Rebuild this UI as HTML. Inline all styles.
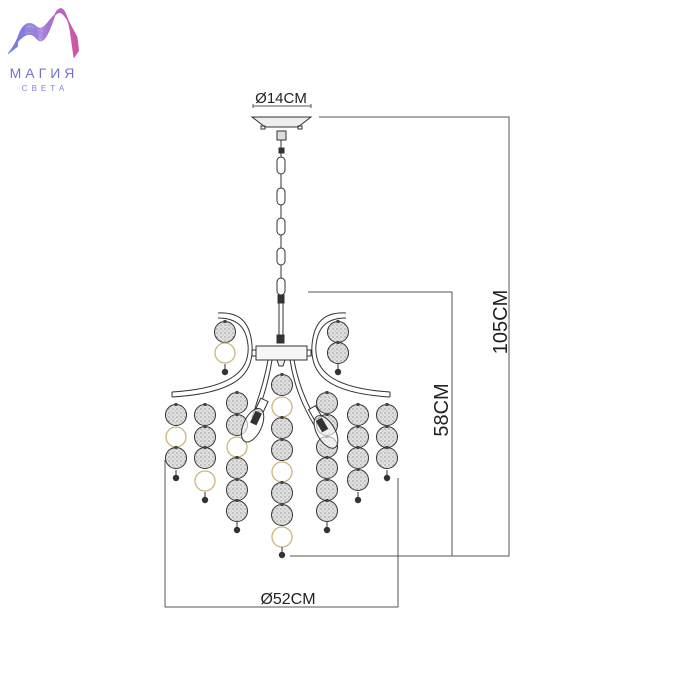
<!DOCTYPE html>
<html><head><meta charset="utf-8"><style>
html,body{margin:0;padding:0;background:#fff;width:700px;height:700px;overflow:hidden}
svg{display:block}
text{font-family:"Liberation Sans",sans-serif}
</style></head><body>
<svg id="s" width="700" height="700" viewBox="0 0 700 700" xmlns="http://www.w3.org/2000/svg">
<defs>
<linearGradient id="lg" gradientUnits="userSpaceOnUse" x1="8" y1="30" x2="80" y2="30">
<stop offset="0" stop-color="#6f7ae0"/><stop offset="0.5" stop-color="#a07ad8"/><stop offset="1" stop-color="#d250a0"/>
</linearGradient>
<pattern id="st" width="4" height="4" patternUnits="userSpaceOnUse">
<rect width="4" height="4" fill="#e0e0e0"/><circle cx="1" cy="1" r="0.6" fill="#777"/><circle cx="3" cy="3" r="0.5" fill="#999"/>
</pattern>
</defs>
<g fill="none" stroke="url(#lg)" stroke-width="0.8" id="logo"></g>
<text x="44" y="78" font-size="14" text-anchor="middle" fill="#6f74d0" letter-spacing="4">МАГИЯ</text>
<text x="45" y="91" font-size="8" text-anchor="middle" fill="#7f86d8" letter-spacing="4">СВЕТА</text>

<g stroke="#555" stroke-width="1" fill="none">
<path d="M253 108V104M311 108V104M253 106H311"/>
<path d="M319 117H509V556H290"/>
<path d="M308 292H452V556"/>
<path d="M165 460V607H398V478"/>
</g>
<text x="281" y="103" font-size="15" text-anchor="middle" fill="#222">Ø14CM</text>
<text x="288" y="604" font-size="16" text-anchor="middle" fill="#222">Ø52CM</text>
<text transform="translate(507,322) rotate(-90)" font-size="20" text-anchor="middle" fill="#222">105CM</text>
<text transform="translate(448,410) rotate(-90)" font-size="20" text-anchor="middle" fill="#222">58CM</text>

<g stroke="#333" stroke-width="1" fill="none">
<path d="M252 117H311L298 127H265Z" fill="#eee"/>
<rect x="261" y="126" width="4" height="3"/><rect x="298" y="126" width="4" height="3"/>
<rect x="277" y="131" width="9" height="9" fill="#ddd"/>
<rect x="279" y="148" width="5" height="5" fill="#333"/>
<rect x="277" y="157" width="8" height="17" rx="4"/>
<rect x="277" y="188" width="8" height="17" rx="4"/>
<rect x="277" y="218" width="8" height="17" rx="4"/>
<rect x="277" y="248" width="8" height="17" rx="4"/>
<rect x="277" y="278" width="8" height="17" rx="4"/>
<path d="M281 140V157M281 174V188M281 205V218M281 235V248M281 265V278"/>
<rect x="278" y="295" width="6" height="8" fill="#333"/>
<path d="M279 303V336M283 303V336"/>
<rect x="277" y="335" width="7" height="8" fill="#333"/>
<rect x="256" y="346" width="51" height="14" fill="#f6f6f6"/>
<rect x="252" y="350" width="4" height="6"/><rect x="307" y="350" width="4" height="6"/>
<path d="M277 360h8l-2 6h-4z" fill="#eee"/>
<path d="M218 313C240 312 250 322 252 345C254 372 240 393 172 397"/>
<path d="M218 318C236 318 246 326 248 345C250 368 236 388 172 392"/>
<path d="M346 313C324 312 314 322 312 345C310 372 324 393 390 397"/>
<path d="M346 318C328 318 318 326 316 345C314 368 328 388 390 392"/>
<path d="M272 360C268 385 262 400 256 420M268 360C264 383 258 398 252 418"/>
<path d="M290 360C294 385 302 405 314 425M294 360C298 383 306 403 318 423"/>
<path d="M172 392V397M390 392V397"/>
</g>
<g id="b"></g>
<g stroke="#333" stroke-width="1" fill="none">
<g transform="translate(256,418) rotate(25)"><rect x="-4" y="-20" width="8" height="12" fill="#fff"/><ellipse cx="0" cy="8" rx="9" ry="18" fill="#fff" fill-opacity="0.6"/><rect x="-3" y="-6" width="6" height="12" fill="#333"/></g>
<g transform="translate(322,425) rotate(-30)"><rect x="-4" y="-20" width="8" height="12" fill="#fff"/><ellipse cx="0" cy="8" rx="9" ry="18" fill="#fff" fill-opacity="0.6"/><rect x="-3" y="-6" width="6" height="12" fill="#333"/></g>
</g>
</svg>
<script>
var g=document.getElementById('b'),h='';
function ball(x,y){h+='<circle cx="'+x+'" cy="'+y+'" r="10.5" fill="url(#st)" stroke="#333" stroke-width="1"/><rect x="'+(x-1.5)+'" y="'+(y-12)+'" width="3" height="3" fill="#444"/>';}
function ring(x,y){h+='<circle cx="'+x+'" cy="'+y+'" r="10" fill="none" stroke="#c9b57a" stroke-width="1.3"/>';}
function drop(x,y){h+='<line x1="'+x+'" y1="'+(y-8)+'" x2="'+x+'" y2="'+(y-3)+'" stroke="#333"/><circle cx="'+x+'" cy="'+y+'" r="3.2" fill="#333"/>';}
function strand(x,items,d){items.forEach(function(it){(it[0]=='b'?ball:ring)(x,it[1]);});drop(x,d);}
strand(225,[['b',332],['r',353]],372);
strand(338,[['b',332],['b',353]],372);
strand(176,[['b',415],['r',437],['b',458]],478);
strand(205,[['b',415],['b',437],['b',458],['r',481]],500);
strand(237,[['b',403],['b',425],['r',447],['b',468],['b',490],['b',511]],530);
strand(282,[['b',385],['r',407],['b',428],['b',450],['r',472],['b',493],['b',515],['r',537]],555);
strand(327,[['b',403],['b',425],['b',447],['b',468],['b',490],['b',511]],530);
strand(358,[['b',415],['b',437],['b',458],['b',480]],500);
strand(387,[['b',415],['b',437],['b',458]],478);
g.innerHTML=h;
var L=document.getElementById('logo'),p='';
for(var i=0;i<14;i++){var o=i*1.8;
p+='<path d="M'+(8+o*0.4)+' '+(54-o*0.3)+'C18 '+(40-o*0.6)+' 28 '+(28-o*0.4)+' 36 '+(38-o*0.5)+'S50 '+(30-o*0.6)+' 56 '+(12+o*0.1)+'C62 '+(4+o*0.2)+' 66 '+(10+o*0.3)+' '+(70+o*0.3)+' '+(30+o*0.3)+'L'+(74+o*0.2)+' '+(58-o*0.3)+'"/>';}
L.innerHTML=p;
</script>
</body></html>
